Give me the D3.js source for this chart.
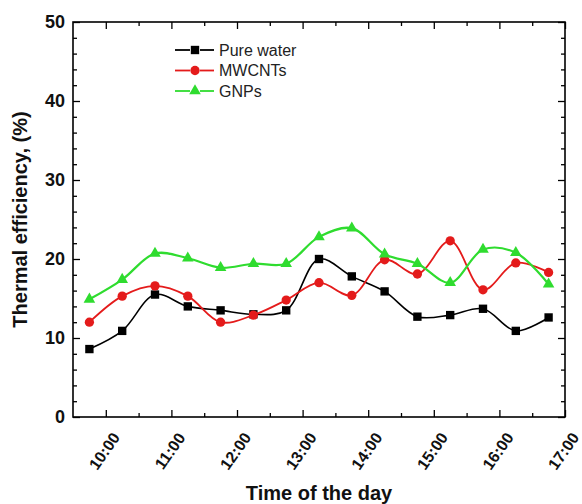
<!DOCTYPE html>
<html>
<head>
<meta charset="utf-8">
<script src="https://cdn.jsdelivr.net/npm/d3@7"></script>
<style>
  body { margin: 0; background: #fff; }
  text { font-family: "Liberation Sans", Arial, sans-serif; }
</style>
</head>
<body>
<svg width="582" height="504"></svg>
<script>
// readings every half hour
var times = ["9:45", "10:15", "10:45", "11:15", "11:45", "12:15", "12:45", "13:15",
             "13:45", "14:15", "14:45", "15:15", "15:45", "16:15", "16:45"];
var pureWater = [8.6, 10.9, 15.5, 14.0, 13.5, 13.0, 13.5, 20.0, 17.8, 15.9, 12.7, 12.9, 13.7, 10.9, 12.6];
var mwcnts    = [12.0, 15.3, 16.6, 15.3, 12.0, 12.9, 14.8, 17.0, 15.4, 19.9, 18.1, 22.3, 16.1, 19.5, 18.3];
var gnps      = [14.9, 17.4, 20.7, 20.1, 18.9, 19.4, 19.4, 22.8, 23.9, 20.6, 19.4, 17.0, 21.2, 20.8, 16.8];

var seriesNames = ["Pure water", "MWCNTs", "GNPs"];
var xTickLabels = ["10:00", "11:00", "12:00", "13:00", "14:00", "15:00", "16:00", "17:00"];
var yTicks = [0, 10, 20, 30, 40, 50];

function toHours(t) {
  var p = t.split(":");
  return +p[0] + (+p[1]) / 60;
}

// plot box (window.top is taken, so prefix these)
var plotLeft = 73, plotRight = 565, plotTop = 22, plotBottom = 417;

var xScale = d3.scaleLinear().domain([9.5, 17]).range([plotLeft, plotRight]);
var yScale = d3.scaleLinear().domain([0, 50]).range([plotBottom, plotTop]);

var colorScale = d3.scaleOrdinal().domain(seriesNames).range(["#000000", "#e41b1b", "#2fdc2f"]);
var symbolScale = d3.scaleOrdinal().domain(seriesNames)
  .range([d3.symbolSquare, d3.symbolCircle, d3.symbolTriangle]);
var symbolSize = { "Pure water": 70, "MWCNTs": 68, "GNPs": 58 };
var lineWidth = { "Pure water": 1.6, "MWCNTs": 1.8, "GNPs": 2.2 };

var series = [pureWater, mwcnts, gnps].map(function(vals, i) {
  return {
    name: seriesNames[i],
    points: vals.map(function(v, j) { return { t: toHours(times[j]), v: v }; })
  };
});

var svg = d3.select("svg");

var xMajor = xTickLabels.map(toHours);
var xMinor = xMajor.map(function(h) { return h - 0.5; }).filter(function(h) { return h > 9.5; });
var yMinor = d3.range(2, 50, 2).filter(function(v) { return v % 10 != 0; });

// bottom axis
var xAxis = d3.axisBottom(xScale).tickValues(xMajor)
  .tickFormat(function(d, i) { return xTickLabels[i]; })
  .tickSizeInner(-7).tickSizeOuter(0);
var gx = svg.append("g").attr("transform", "translate(0," + plotBottom + ")").call(xAxis);
gx.selectAll("text")
  .attr("y", null).attr("dy", "0.35em")
  .attr("text-anchor", "middle")
  .attr("transform", "translate(-2,34) rotate(-55)")
  .style("font-size", "16px").style("font-weight", "bold").attr("fill", "#111");
svg.append("g").attr("transform", "translate(0," + plotBottom + ")")
  .call(d3.axisBottom(xScale).tickValues(xMinor).tickFormat("").tickSizeInner(-4).tickSizeOuter(0));

// top axis
svg.append("g").attr("transform", "translate(0," + plotTop + ")")
  .call(d3.axisTop(xScale).tickValues(xMajor).tickFormat("").tickSizeInner(-7).tickSizeOuter(0));
svg.append("g").attr("transform", "translate(0," + plotTop + ")")
  .call(d3.axisTop(xScale).tickValues(xMinor).tickFormat("").tickSizeInner(-4).tickSizeOuter(0));

// left axis
var yAxis = d3.axisLeft(yScale).tickValues(yTicks).tickSizeInner(-7).tickSizeOuter(0).tickPadding(8);
var gy = svg.append("g").attr("transform", "translate(" + plotLeft + ",0)").call(yAxis);
gy.selectAll("text").style("font-size", "18px").style("font-weight", "bold").attr("fill", "#111");
svg.append("g").attr("transform", "translate(" + plotLeft + ",0)")
  .call(d3.axisLeft(yScale).tickValues(yMinor).tickFormat("").tickSizeInner(-4).tickSizeOuter(0));

// right axis
svg.append("g").attr("transform", "translate(" + plotRight + ",0)")
  .call(d3.axisRight(yScale).tickValues(yTicks).tickFormat("").tickSizeInner(-7).tickSizeOuter(0));
svg.append("g").attr("transform", "translate(" + plotRight + ",0)")
  .call(d3.axisRight(yScale).tickValues(yMinor).tickFormat("").tickSizeInner(-4).tickSizeOuter(0));

svg.selectAll(".domain").remove();
svg.selectAll(".tick line").attr("stroke", "#000").attr("stroke-width", 1.3);

// frame
svg.append("rect")
  .attr("x", plotLeft).attr("y", plotTop)
  .attr("width", plotRight - plotLeft).attr("height", plotBottom - plotTop)
  .attr("fill", "none").attr("stroke", "#000").attr("stroke-width", 1.6);

// lines + markers
var line = d3.line()
  .x(function(d) { return xScale(d.t); })
  .y(function(d) { return yScale(d.v); })
  .curve(d3.curveCatmullRom);

var groups = svg.selectAll("g.series")
  .data(series)
  .enter().append("g").attr("class", "series");

groups.append("path")
  .attr("fill", "none")
  .attr("stroke", function(d) { return colorScale(d.name); })
  .attr("stroke-width", function(d) { return lineWidth[d.name]; })
  .attr("d", function(d) { return line(d.points); });

groups.selectAll("path.mark")
  .data(function(d) { return d.points.map(function(p) { return { name: d.name, t: p.t, v: p.v }; }); })
  .enter().append("path").attr("class", "mark")
  .attr("transform", function(d) { return "translate(" + xScale(d.t) + "," + yScale(d.v) + ")"; })
  .attr("fill", function(d) { return colorScale(d.name); })
  .attr("d", function(d) { return d3.symbol().type(symbolScale(d.name)).size(symbolSize[d.name])(); });

// legend
var legend = svg.selectAll("g.legend")
  .data(seriesNames)
  .enter().append("g").attr("class", "legend")
  .attr("transform", function(d, i) { return "translate(175," + (50 + i * 20.5) + ")"; });

legend.append("line").attr("x1", 0).attr("x2", 15).attr("y1", 0).attr("y2", 0)
  .attr("stroke", function(d) { return colorScale(d); }).attr("stroke-width", 1.8);
legend.append("line").attr("x1", 25).attr("x2", 39).attr("y1", 0).attr("y2", 0)
  .attr("stroke", function(d) { return colorScale(d); }).attr("stroke-width", 1.8);
legend.append("path")
  .attr("transform", "translate(20,0)")
  .attr("fill", function(d) { return colorScale(d); })
  .attr("d", function(d) { return d3.symbol().type(symbolScale(d)).size(symbolSize[d])(); });
legend.append("text")
  .attr("x", 44).attr("dy", "0.35em")
  .style("font-size", "16px").attr("fill", "#222")
  .text(function(d) { return d; });

// axis titles
svg.append("text")
  .attr("x", (plotLeft + plotRight) / 2).attr("y", 500)
  .attr("text-anchor", "middle")
  .style("font-size", "20px").style("font-weight", "bold").attr("fill", "#111")
  .text("Time of the day");

svg.append("text")
  .attr("transform", "translate(27," + (plotTop + plotBottom) / 2 + ") rotate(-90)")
  .attr("text-anchor", "middle")
  .style("font-size", "20px").style("font-weight", "bold").attr("fill", "#111")
  .text("Thermal efficiency, (%)");
</script>
</body>
</html>
